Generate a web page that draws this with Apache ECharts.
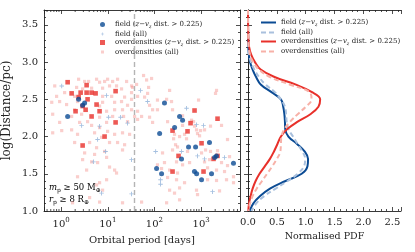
<!DOCTYPE html>
<html><head><meta charset="utf-8">
<script src="https://cdn.jsdelivr.net/npm/echarts@6/dist/echarts.min.js"></script>
<style>html,body{margin:0;padding:0;background:#fff}#c{width:415px;height:252px}</style>
</head><body><div id="c"></div>
<script>
// ---------- data (orbital period [days], log distance) ----------
const fieldSel = [[1.38,2.27],[2.37,2.50],[3.19,2.45],[2.89,2.42],[164,2.45],[345,2.27],[400,2.22],[270,2.12],[129,2.04],[537,1.86],[760,1.86],[1510,1.92],[2130,1.74],[1940,1.72],[380,1.70],[111,1.57],[142,1.50],[720,1.53],[800,1.50],[1670,1.50],[1020,1.42],[4930,1.64]];
const fieldAll = [[1.03,2.68],[9.42,2.55],[10.4,2.26],[18.8,2.26],[2.75,2.15],[6.67,2.14],[26.5,2.18],[6.05,1.96],[8.97,1.80],[4.96,1.66],[32.3,1.69],[7.36,1.24],[32.3,1.23],[50.4,2.62],[71.2,2.47],[487,2.38],[796,2.16],[1125,2.15],[106,1.80],[380,1.80],[837,1.74],[1183,1.70],[3170,1.72],[135,1.42],[135,1.36],[1755,1.26]];
const overSel = [[1.38,2.73],[1.68,2.58],[2.62,2.59],[3.52,2.69],[3.52,2.59],[4.50,2.59],[5.48,2.58],[2.37,2.53],[3.69,2.50],[2.89,2.41],[2.04,2.34],[3.35,2.36],[5.75,2.43],[4.50,2.27],[6.67,2.34],[14.7,2.61],[14.7,2.19],[8.54,2.00],[2.89,1.88],[722,2.35],[2245,2.24],[593,2.18],[244,2.08],[511,2.07],[1020,1.91],[328,1.74],[1844,1.70],[2245,1.74],[244,1.53],[1125,1.53]];
const overAll = [[0.73,2.68],[2.37,2.77],[3.19,2.74],[3.88,2.74],[5.75,2.77],[6.67,2.73],[8.54,2.74],[9.9,2.77],[12.7,2.74],[16.2,2.77],[25.3,2.74],[32.3,2.68],[10.9,2.68],[15.4,2.68],[2.15,2.66],[2.89,2.64],[4.5,2.65],[7.74,2.65],[19.7,2.64],[32.3,2.59],[0.80,2.54],[1.19,2.59],[1.95,2.54],[7.74,2.54],[12.1,2.54],[22.9,2.53],[32.3,2.50],[0.63,2.46],[0.93,2.47],[1.31,2.43],[2.25,2.47],[7.74,2.46],[14.0,2.46],[19.7,2.47],[26.5,2.42],[1.95,2.36],[6.67,2.41],[9.42,2.34],[14.0,2.36],[20.7,2.36],[32.3,2.36],[1.68,2.27],[2.75,2.30],[6.67,2.26],[12.7,2.27],[21.8,2.27],[0.66,2.30],[0.93,2.19],[2.49,2.19],[3.69,2.20],[9.42,2.19],[26.5,2.20],[1.68,2.09],[4.5,2.15],[6.67,2.12],[14.0,2.03],[20.7,2.05],[29.3,2.03],[0.66,2.05],[1.03,2.08],[2.25,2.03],[5.21,2.05],[9.9,2.07],[7.36,1.99],[1.95,1.92],[4.08,1.92],[10.9,1.92],[16.2,1.92],[22.9,1.89],[5.75,1.85],[3.19,1.78],[8.54,1.80],[20.7,1.82],[5.21,1.76],[2.89,1.69],[9.42,1.72],[4.5,1.66],[6.05,1.65],[3.52,1.55],[14.0,1.55],[10.9,1.59],[15.4,1.51],[2.25,1.46],[9.42,1.42],[5.75,1.35],[6.67,1.38],[7.74,1.28],[4.08,1.18],[1.76,1.11],[6.67,1.12],[20.7,1.11],
[58.4,2.82],[67.8,2.76],[74.8,2.66],[86.7,2.78],[34.0,2.66],[71.2,2.58],[61.4,2.53],[116,2.36],[182,2.50],[211,2.62],[244,2.36],[2136,2.62],[2033,2.58],[37.5,2.27],[43.5,2.23],[78.5,2.26],[91.1,2.19],[191,2.20],[41.4,2.70],[43.5,2.54],[116,2.49],[78.5,2.42],[91.1,2.36],[232,2.47],[880,2.49],[43.5,2.34],[53.0,2.27],[400,2.28],[623,2.22],[687,2.20],[796,2.09],[971,2.08],[1589,2.14],[3675,1.96],[441,2.03],[487,1.97],[257,1.97],[400,2.15],[722,2.14],[269,2.03],[345,2.00],[837,2.04],[1183,2.09],[925,2.01],[2734,2.15],[283,1.89],[312,1.86],[149,1.78],[244,1.82],[511,1.80],[1020,1.78],[1243,1.82],[1589,1.80],[2245,1.81],[164,1.65],[116,1.62],[142,1.57],[297,1.66],[400,1.62],[565,1.65],[1183,1.66],[1514,1.69],[2734,1.65],[3675,1.61],[4055,1.73],[211,1.55],[312,1.51],[1372,1.58],[2136,1.55],[3170,1.53],[191,1.45],[297,1.42],[441,1.38],[1372,1.42],[2136,1.41],[3498,1.42],[4940,1.46],[211,1.28],[345,1.31],[796,1.28],[2477,1.27],[4940,1.38],[269,1.24],[345,1.15],[837,1.22],[182,1.11],[53.0,1.12]];
const cutPeriod = 37;
// PDF curves (log distance grid, normalised PDF values)
const pdfY     = [3.7,3.5,3.3,3.2,3.1,3.0,2.9,2.8,2.7,2.6,2.5,2.4,2.3,2.2,2.1,2.0,1.9,1.8,1.7,1.6,1.5,1.4,1.3,1.2,1.1,1.0];
const pdfFieldSel = [0,0,0.002,0.006,0.015,0.035,0.08,0.14,0.22,0.40,0.57,0.61,0.63,0.64,0.645,0.70,0.85,0.98,1.04,1.03,0.93,0.64,0.38,0.21,0.09,0.03];
const pdfFieldAll = [0,0,0.003,0.008,0.02,0.05,0.11,0.19,0.30,0.46,0.57,0.64,0.66,0.67,0.70,0.78,0.86,0.94,0.99,0.97,0.86,0.68,0.48,0.28,0.14,0.06];
const pdfOverSel  = [0,0.002,0.008,0.02,0.055,0.12,0.22,0.46,0.82,1.10,1.25,1.22,1.08,0.86,0.68,0.57,0.51,0.45,0.38,0.29,0.20,0.13,0.08,0.045,0.018,0.005];
const pdfOverAll  = [0,0.001,0.006,0.015,0.035,0.09,0.19,0.38,0.72,1.06,1.10,1.00,0.86,0.73,0.63,0.58,0.57,0.56,0.50,0.42,0.33,0.24,0.15,0.08,0.035,0.01];
// tick values
const periodMin = 0.43, periodMax = 6800;
const minorPeriods = [0.5,0.6,0.7,0.8,0.9,2,3,4,5,6,7,8,9,20,30,40,50,60,70,80,90,200,300,400,500,600,700,800,900,2000,3000,4000,5000,6000];

// ---------- styling ----------
const FONT = 'DejaVu Serif';
const INK = '#222';
const C_FIELD = '#0b4b94', C_FIELD_L = '#8fb0d8', C_OVER = '#e8302a', C_OVER_L = 'rgba(240,120,115,0.45)';
const C_FIELD_DASH = '#a9c0dd', C_OVER_DASH = '#f7b1a8';
const plusPath = 'path://M4,0H6V4H10V6H6V10H4V6H0V4H4Z';

const lrich = {
  n:{fontFamily:FONT,fontSize:7,lineHeight:9,color:INK},
  i:{fontFamily:FONT,fontSize:7,lineHeight:9,fontStyle:'italic',color:INK},
  s:{fontFamily:FONT,fontSize:5,lineHeight:6,fontStyle:'italic',verticalAlign:'bottom',color:INK}
};
const selTxt = '{i|z}{n|−}{i|v}{s|z}{n| dist. > 0.225)}';
const legendLabels = {
  s_f_sel:'{n|field (}'+selTxt, s_f_all:'{n|field (all)}', s_o_sel:'{n|overdensities (}'+selTxt, s_o_all:'{n|overdensities (all)}',
  p_f_sel:'{n|field (}'+selTxt, p_f_all:'{n|field (all)}', p_o_sel:'{n|overdensities (}'+selTxt, p_o_all:'{n|overdensities (all)}'
};

const tick = {show:true,inside:true,length:4,lineStyle:{color:INK,width:0.8}};
const minor = {show:true,splitNumber:5,length:2,lineStyle:{color:INK,width:0.8}};
const line = {show:true,lineStyle:{color:INK,width:0.9}};
const lab = {fontFamily:FONT,fontSize:10,color:INK,margin:6};

function logLabel(v){
  const l = Math.log10(v), r = Math.round(l);
  if (Math.abs(l-r) < 1e-6) return '{b|10}{s|'+r+'}';
  return '';
}

const chart = echarts.init(document.getElementById('c'), null, {renderer:'canvas'});
const option = {
  animation:false,
  backgroundColor:'#fff',
  grid:[
    {left:44,top:10,width:196,height:201,outerBoundsMode:'none'},
    {left:248,top:10,width:153,height:201,outerBoundsMode:'none'}
  ],
  xAxis:[
    {type:'log',gridIndex:0,position:'bottom',min:periodMin,max:periodMax,axisLine:line,axisTick:tick,splitLine:{show:false},
     axisLabel:{...lab,formatter:logLabel,rich:{b:{fontFamily:FONT,fontSize:10,lineHeight:14,color:INK},s:{fontFamily:FONT,fontSize:7,lineHeight:8,verticalAlign:'top',color:INK}}},
     name:'Orbital period [days]',nameLocation:'middle',nameGap:24,nameTextStyle:{fontFamily:FONT,fontSize:10,color:INK}},
    {type:'log',gridIndex:0,position:'top',min:periodMin,max:periodMax,axisLine:line,axisTick:tick,axisLabel:{show:false},splitLine:{show:false}},
    {type:'value',gridIndex:1,position:'bottom',min:0,max:2.65,interval:0.5,axisLine:line,axisTick:tick,minorTick:minor,splitLine:{show:false},
     axisLabel:{...lab,showMaxLabel:false,formatter:v=>v.toFixed(1)},
     name:'Normalised PDF',nameLocation:'middle',nameGap:21,nameTextStyle:{fontFamily:FONT,fontSize:9.5,color:INK}},
    {type:'value',gridIndex:1,position:'top',min:0,max:2.65,interval:0.5,axisLine:line,axisTick:tick,minorTick:minor,axisLabel:{show:false},splitLine:{show:false}}
  ],
  yAxis:[
    {type:'value',gridIndex:0,position:'left',min:1,max:3.7,interval:0.5,axisLine:line,axisTick:tick,minorTick:minor,splitLine:{show:false},
     axisLabel:{...lab,showMaxLabel:false,formatter:v=>v.toFixed(1)},
     name:'log(Distance/pc)',nameLocation:'middle',nameGap:31,nameTextStyle:{fontFamily:FONT,fontSize:12,color:INK}},
    {type:'value',gridIndex:0,position:'right',min:1,max:3.7,interval:0.5,axisLine:line,axisTick:tick,minorTick:minor,axisLabel:{show:false},splitLine:{show:false}},
    {type:'value',gridIndex:1,position:'left',min:1,max:3.7,interval:0.5,axisLine:line,axisTick:tick,minorTick:minor,axisLabel:{show:false},splitLine:{show:false}},
    {type:'value',gridIndex:1,position:'right',min:1,max:3.7,interval:0.5,axisLine:line,axisTick:tick,minorTick:minor,axisLabel:{show:false},splitLine:{show:false}}
  ],
  legend:[
    {orient:'vertical',left:95,top:16,itemWidth:15,itemHeight:5,itemGap:1.5,symbolKeepAspect:true,
     data:[{name:'s_f_sel',icon:'circle'},{name:'s_f_all',icon:'path://M-3,-3M13,13M4,0H6V4H10V6H6V10H4V6H0V4H4Z'},{name:'s_o_sel',icon:'path://M0,0H10V10H0Z'},{name:'s_o_all',icon:'path://M0,0M10,10M2,2H8V8H2Z'}],
     formatter:n=>legendLabels[n],textStyle:{rich:lrich}},
    {orient:'vertical',left:255,top:14,itemWidth:15,itemHeight:8,itemGap:2,itemStyle:{opacity:0},
     data:['p_f_sel','p_f_all','p_o_sel','p_o_all'],
     formatter:n=>legendLabels[n],textStyle:{rich:lrich}}
  ],
  graphic:[
    {type:'text',left:49,top:183,style:{text:'{i|m}{s|p}{n| ≥ 50 M}{s|⊕}',rich:{
      n:{fontFamily:FONT,fontSize:8.5,lineHeight:11,color:INK},i:{fontFamily:FONT,fontSize:8.5,lineHeight:11,fontStyle:'italic',color:INK},
      s:{fontFamily:FONT,fontSize:6,lineHeight:7,verticalAlign:'bottom',color:INK}}}},
    {type:'text',left:49,top:195,style:{text:'{i|r}{s|p}{n| ≥ 8 R}{s|⊕}',rich:{
      n:{fontFamily:FONT,fontSize:8.5,lineHeight:11,color:INK},i:{fontFamily:FONT,fontSize:8.5,lineHeight:11,fontStyle:'italic',color:INK},
      s:{fontFamily:FONT,fontSize:6,lineHeight:7,verticalAlign:'bottom',color:INK}}}}
  ],
  series:[
    {type:'custom',name:'minor',xAxisIndex:0,yAxisIndex:0,silent:true,data:minorPeriods.map(v=>[v,1]),
     renderItem:function(params,api){
       const x = api.coord([api.value(0),1])[0];
       const cs = params.coordSys;
       const b = cs.y+cs.height;
       return {type:'group',children:[
         {type:'line',shape:{x1:x,y1:b,x2:x,y2:b-2},style:{stroke:INK,lineWidth:0.8}},
         {type:'line',shape:{x1:x,y1:cs.y,x2:x,y2:cs.y+2},style:{stroke:INK,lineWidth:0.8}}
       ]};
     }},
    {type:'scatter',name:'s_o_all',xAxisIndex:0,yAxisIndex:0,data:overAll,symbol:'rect',symbolSize:3.2,itemStyle:{color:C_OVER_L},
     markLine:{silent:true,symbol:'none',label:{show:false},lineStyle:{color:'#b4b4b4',type:[5,3],width:1.4},data:[{xAxis:cutPeriod}]}},
    {type:'scatter',name:'s_f_all',xAxisIndex:0,yAxisIndex:0,data:fieldAll,symbol:plusPath,symbolSize:4.5,itemStyle:{color:C_FIELD_L}},
    {type:'scatter',name:'s_o_sel',xAxisIndex:0,yAxisIndex:0,data:overSel,symbol:'rect',symbolSize:4.6,itemStyle:{color:C_OVER}},
    {type:'scatter',name:'s_f_sel',xAxisIndex:0,yAxisIndex:0,data:fieldSel,symbol:'circle',symbolSize:5,itemStyle:{color:C_FIELD}},
    {type:'line',name:'p_f_sel',xAxisIndex:2,yAxisIndex:2,data:pdfY.map((y,i)=>[pdfFieldSel[i],y]),showSymbol:false,symbol:'none',smooth:0.4,lineStyle:{color:C_FIELD,width:2},itemStyle:{color:C_FIELD}},
    {type:'line',name:'p_f_all',xAxisIndex:2,yAxisIndex:2,data:pdfY.map((y,i)=>[pdfFieldAll[i],y]),showSymbol:false,symbol:'none',smooth:0.4,lineStyle:{color:C_FIELD_DASH,width:2,type:[5,3]},itemStyle:{color:C_FIELD_DASH}},
    {type:'line',name:'p_o_sel',xAxisIndex:2,yAxisIndex:2,data:pdfY.map((y,i)=>[pdfOverSel[i],y]),showSymbol:false,symbol:'none',smooth:0.4,lineStyle:{color:C_OVER,width:2},itemStyle:{color:C_OVER}},
    {type:'line',name:'p_o_all',xAxisIndex:2,yAxisIndex:2,data:pdfY.map((y,i)=>[pdfOverAll[i],y]),showSymbol:false,symbol:'none',smooth:0.4,lineStyle:{color:C_OVER_DASH,width:2,type:[5,3]},itemStyle:{color:C_OVER_DASH}}
  ]
};
chart.setOption(option);
</script></body></html>
